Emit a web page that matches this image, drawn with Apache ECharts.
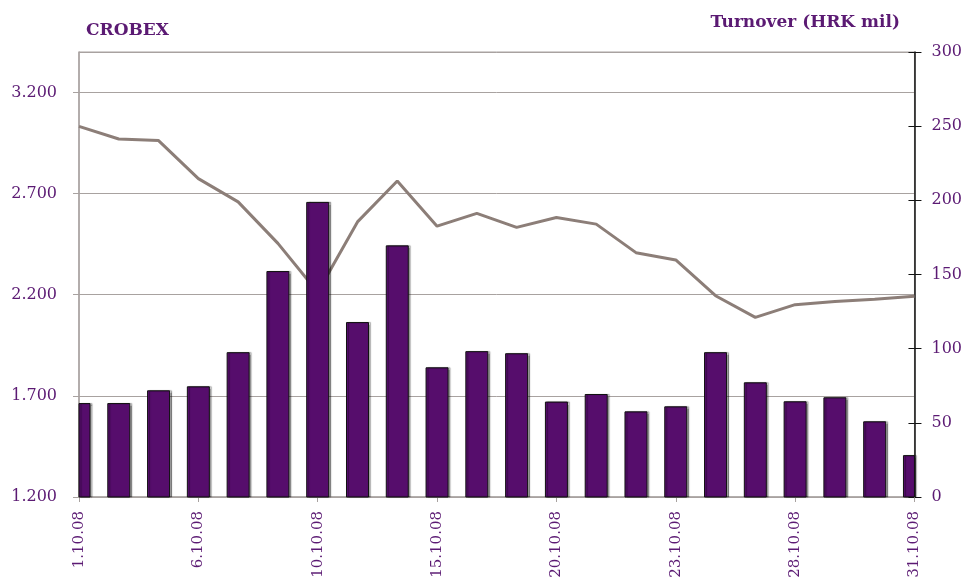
<!DOCTYPE html>
<html>
<head>
<meta charset="utf-8">
<script src="https://cdn.jsdelivr.net/npm/echarts@6/dist/echarts.min.js"></script>
<style>
  html, body { margin: 0; padding: 0; background: #fff; }
  #chart { width: 965px; height: 581px; }
</style>
</head>
<body>
<div id="chart"></div>
<script>
// trading days, October 2008 (8.10. holiday)
const days = ['1.10.08', '2.10.08', '3.10.08', '6.10.08', '7.10.08', '9.10.08', '10.10.08',
  '13.10.08', '14.10.08', '15.10.08', '16.10.08', '17.10.08', '20.10.08', '21.10.08',
  '22.10.08', '23.10.08', '24.10.08', '27.10.08', '28.10.08', '29.10.08', '30.10.08', '31.10.08']
const crobex = [3032, 2970, 2962, 2774, 2659, 2454, 2212, 2560, 2762, 2539, 2602,
  2533, 2582, 2549, 2408, 2372, 2195, 2088, 2151, 2166, 2178, 2192]
const turnover = [63, 63, 71.6, 74.3, 97.3, 152, 198.6, 117.6, 169.3, 87.1, 98, 96.6,
  64, 69.1, 57.4, 60.8, 97.3, 77, 64.2, 66.9, 50.7, 27.9]

const purple = '#5B1A73'
const grey = '#A8A2A0'
const font = 'DejaVu Serif'
const barW = 22

const chart = echarts.init(document.getElementById('chart'))

// bars centred on the ticks, the two edge ones cut by the plot area (like Excel)
function renderBar(params, api) {
  const top = api.coord([api.value(0), api.value(1)])
  const base = api.coord([api.value(0), 0])
  const cs = params.coordSys
  const rect = echarts.graphic.clipRectByRect(
    { x: top[0] - barW / 2, y: top[1], width: barW, height: base[1] - top[1] },
    { x: cs.x, y: cs.y, width: cs.width, height: cs.height }
  )
  if (!rect) return
  return {
    type: 'rect',
    shape: rect,
    style: {
      fill: '#560D6C',
      stroke: '#111',
      lineWidth: 1,
      shadowColor: 'rgba(0,0,0,0.35)',
      shadowOffsetX: 2,
      shadowBlur: 1
    }
  }
}

chart.setOption({
  animation: false,
  title: [
    {
      text: 'CROBEX',
      left: 81,
      top: 17,
      textStyle: { color: purple, fontFamily: font, fontSize: 17, fontWeight: 'bold' }
    },
    {
      text: 'Turnover (HRK mil)',
      right: 60,
      top: 9,
      textStyle: { color: purple, fontFamily: font, fontSize: 17, fontWeight: 'bold' }
    }
  ],
  grid: {
    left: 79,
    right: 50,
    top: 52,
    bottom: 84,
    show: true,
    borderColor: grey,
    borderWidth: 1
  },
  xAxis: {
    type: 'category',
    data: days,
    boundaryGap: false,
    axisLine: { lineStyle: { color: grey, width: 1.5 } },
    axisTick: { interval: 2, length: 5, lineStyle: { color: grey } },
    axisLabel: {
      interval: 2,
      rotate: 90,
      margin: 14,
      color: purple,
      fontFamily: font,
      fontSize: 15
    }
  },
  yAxis: [
    {
      type: 'value',
      min: 1200,
      max: 3400,
      interval: 500,
      axisLine: { show: true, lineStyle: { color: grey, width: 1.5 } },
      axisTick: { show: true, length: 6, lineStyle: { color: grey } },
      axisLabel: {
        margin: 22,
        color: purple,
        fontFamily: font,
        fontSize: 16,
        showMaxLabel: false,
        formatter: v => (v / 1000).toFixed(3)
      },
      splitLine: { lineStyle: { color: grey, width: 1 } }
    },
    {
      type: 'value',
      position: 'right',
      min: 0,
      max: 300,
      interval: 50,
      axisLine: { show: true, lineStyle: { color: '#111', width: 1.5 } },
      axisTick: { show: true, length: 7, lineStyle: { color: '#111' } },
      axisLabel: { margin: 17, color: purple, fontFamily: font, fontSize: 16 },
      splitLine: { show: false }
    },
    {
      // inner half of the crossing ticks on the right axis
      type: 'value',
      position: 'right',
      min: 0,
      max: 300,
      interval: 50,
      axisLine: { show: false },
      axisTick: { show: true, inside: true, length: 6, lineStyle: { color: '#111' } },
      axisLabel: { show: false },
      splitLine: { show: false }
    }
  ],
  series: [
    {
      name: 'CROBEX',
      type: 'line',
      yAxisIndex: 0,
      data: crobex,
      symbol: 'none',
      z: 1,
      lineStyle: { color: '#8C7E78', width: 3 }
    },
    {
      name: 'Turnover',
      type: 'custom',
      yAxisIndex: 1,
      data: turnover.map((v, i) => [i, v]),
      encode: { x: 0, y: 1 },
      renderItem: renderBar,
      z: 2
    }
  ]
})
</script>
</body>
</html>
